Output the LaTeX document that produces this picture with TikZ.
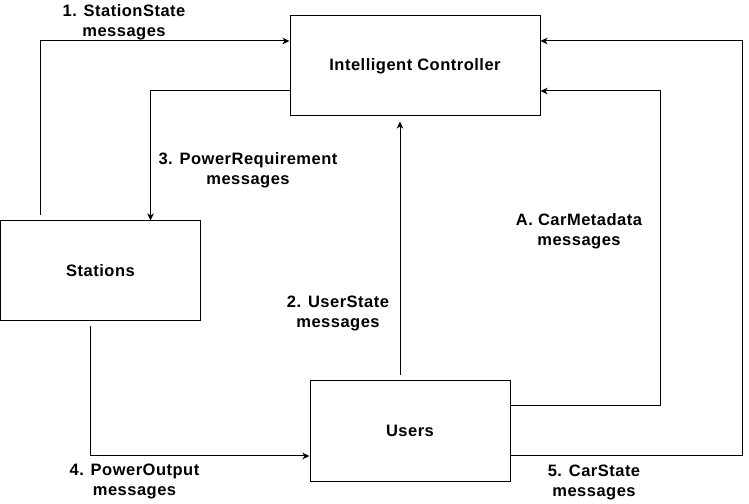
\documentclass[tikz,border=0pt]{standalone}
\usepackage{fontspec}
\setmainfont[LetterSpace=3]{Liberation Sans}
\usetikzlibrary{arrows.meta,calc}

\begin{document}
\begin{tikzpicture}[x=1pt,y=1pt,->,>={Stealth[length=7pt,width=6.5pt,inset=2pt]},
        line width=1pt,
        block/.style={draw,-,minimum width=200pt,minimum height=100pt,inner sep=0pt},
        lbl/.style={align=center,inner sep=0pt},
        every node/.style={font=\fontsize{16.5}{20}\selectfont\bfseries}]

  \useasboundingbox (0,0) rectangle (749,503);

  \node[block,minimum width=250pt] (ctrl) at (415,437) {Intelligent Controller};
  \node[block] (stations) at (100.5,232) {Stations};
  \node[block] (users) at (410,72) {Users};

  % connectors
  \draw ($(stations.north west)+(40,5)$) |- ([yshift=25]ctrl.west);
  \draw ([yshift=-25]ctrl.west) -| ([xshift=50]stations.north);
  \draw[shorten >=5pt] ([xshift=-10,yshift=5]users.north) -- ([xshift=-15]ctrl.south);
  \draw ([yshift=25]users.east) -| ($(ctrl.east)+(120,-25)$) -- ([yshift=-25]ctrl.east);
  \draw ([yshift=-25]users.east) -| ($(ctrl.east)+(202,25)$) -- ([yshift=25]ctrl.east);
  \draw ($(stations.south)+(-10,-5)$) |- ([yshift=-25]users.west);

  % labels
  \node[lbl] (l1) at (124,481) {1. StationState\\messages};
  \node[lbl] (l3) at (248,333) {3. PowerRequirement\\messages};
  \node[lbl] (l2) at (338,190) {2. UserState\\messages};
  \node[lbl] (lA) at (579,272) {A. CarMetadata\\messages};
  \node[lbl] (l4) at (134.5,21.5) {4. PowerOutput\\messages};
  \node[lbl] (l5) at (594,21) {5. CarState\\messages};

\end{tikzpicture}
\end{document}
